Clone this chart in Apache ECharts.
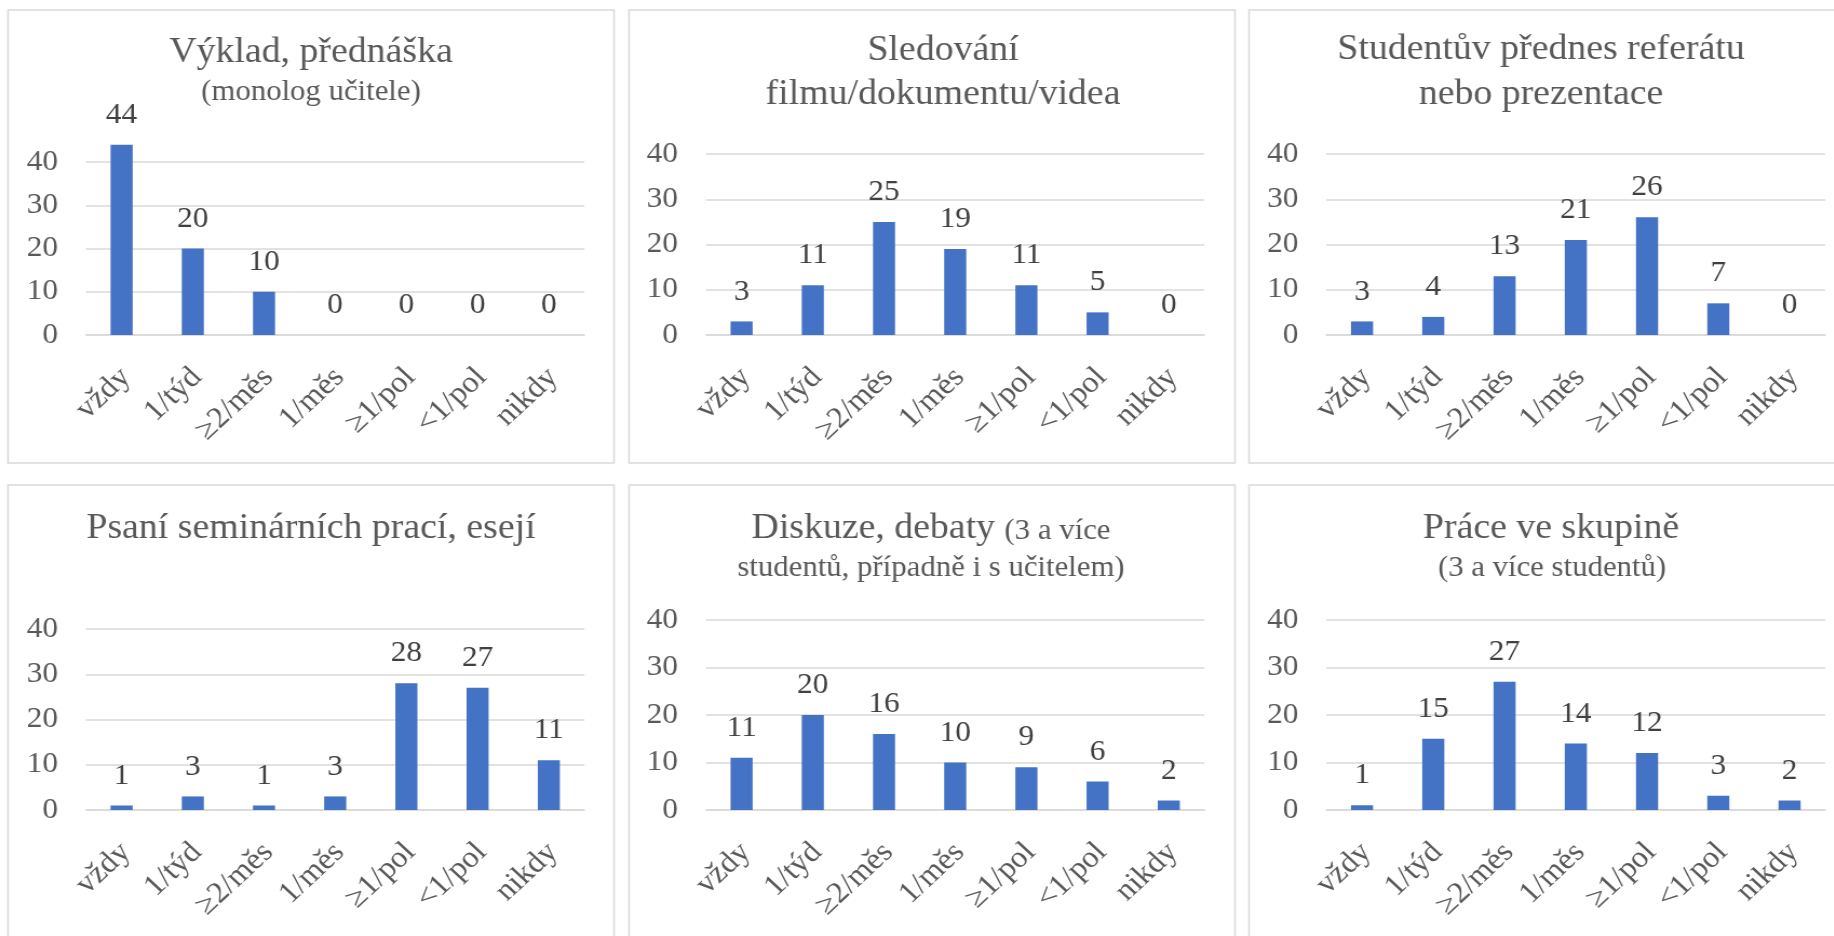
<!DOCTYPE html>
<html><head><meta charset="utf-8">
<script src="https://cdn.jsdelivr.net/npm/echarts@6/dist/echarts.min.js"></script>
<style>
html,body{margin:0;padding:0;background:#fff;overflow:hidden}
#wrap{width:1834px;height:936px;overflow:hidden;position:relative;background:#fff}
#chart{width:1699px;height:936px;transform:scaleX(1.08);transform-origin:0 0}
</style></head><body><div id="wrap"><div id="chart"></div></div>
<script>
// ---- data ----
const categories = ['vždy', '1/týd', '≥2/měs', '1/měs', '≥1/pol', '<1/pol', 'nikdy'];
const yTicks = [0, 10, 20, 30, 40];
const vykladValues = [44, 20, 10, 0, 0, 0, 0];
const sledovaniValues = [3, 11, 25, 19, 11, 5, 0];
const referatValues = [3, 4, 13, 21, 26, 7, 0];
const psaniValues = [1, 3, 1, 3, 28, 27, 11];
const diskuzeValues = [11, 20, 16, 10, 9, 6, 2];
const skupinaValues = [1, 15, 27, 14, 12, 3, 2];

// ---- layout (full-size pixel coords; x divided by S because of horizontal stretch) ----
const S = 1.08;
const FF = 'Liberation Serif';
const panels = [
  {vals: vykladValues,    box: [8, 10, 614, 463],     plot: [86, 162, 584.4, 335]},
  {vals: sledovaniValues, box: [629, 10, 1235, 463],  plot: [706, 154, 1204.4, 335]},
  {vals: referatValues,   box: [1249, 10, 1900, 463], plot: [1326.4, 154, 1825.2, 335]},
  {vals: psaniValues,     box: [8, 485, 614, 1000],   plot: [86, 629, 584.4, 810]},
  {vals: diskuzeValues,   box: [629, 485, 1235, 1000],plot: [706, 620, 1204.4, 810]},
  {vals: skupinaValues,   box: [1249, 485, 1900, 1000],plot: [1326.4, 620, 1825.2, 810]}
];

function tt(text, cx, baseline, size) {
  return {
    text: text, left: cx / S, top: baseline - size * 0.8375, padding: 0,
    textAlign: 'center', textVerticalAlign: 'top',
    textStyle: {fontSize: size, lineHeight: size, fontFamily: FF, fontWeight: 'normal', color: '#595959'}
  };
}
const BIG = 35, SMALL = 28.5;
const titles = [
  tt('Výklad, přednáška', 311, 65, BIG),
  tt('(monolog učitele)', 311, 102, SMALL),
  tt('Sledování', 943, 63, BIG),
  tt('filmu/dokumentu/videa', 943, 107, BIG),
  tt('Studentův přednes referátu', 1541, 62, BIG),
  tt('nebo prezentace', 1541, 107, BIG),
  tt('Psaní seminárních prací, esejí', 311, 541, BIG),
  {
    text: '{a|Diskuze, debaty} {b|(3 a více}', left: 931 / S, top: 541 - BIG * 0.8375, padding: 0,
    textAlign: 'center', textVerticalAlign: 'top',
    textStyle: {fontSize: BIG, lineHeight: BIG, fontFamily: FF, fontWeight: 'normal', color: '#595959',
      rich: {
        a: {fontSize: BIG, lineHeight: BIG, fontFamily: FF, color: '#595959'},
        b: {fontSize: SMALL, lineHeight: BIG, fontFamily: FF, color: '#595959', padding: [4, 0, 0, 0]}
      }}
  },
  tt('studentů, případně i s učitelem)', 931, 578, SMALL),
  tt('Práce ve skupině', 1551, 541, BIG),
  tt('(3 a více studentů)', 1552, 578, SMALL)
];

const grids = [], xAxes = [], yAxes = [], series = [], graphics = [];
panels.forEach(function (p, i) {
  graphics.push({
    type: 'rect', silent: true, z: -1,
    shape: {x: p.box[0] / S, y: p.box[1], width: (p.box[2] - p.box[0]) / S, height: p.box[3] - p.box[1]},
    style: {fill: '#ffffff', stroke: '#d9d9d9', lineWidth: 1.5}
  });
  grids.push({
    left: p.plot[0] / S, top: p.plot[1],
    width: (p.plot[2] - p.plot[0]) / S, height: p.plot[3] - p.plot[1],
    containLabel: false, outerBoundsMode: 'none'
  });
  xAxes.push({
    type: 'category', gridIndex: i, data: categories,
    axisTick: {show: false},
    axisLine: {show: true, lineStyle: {color: '#d9d9d9', width: 1.5}},
    axisLabel: {interval: 0, rotate: 45, margin: 34, verticalAlign: 'top', lineHeight: 11,
      fontSize: 30, fontFamily: FF, color: '#595959'}
  });
  yAxes.push({
    type: 'value', gridIndex: i,
    min: yTicks[0], max: yTicks[yTicks.length - 1], interval: yTicks[1] - yTicks[0],
    axisLine: {show: false}, axisTick: {show: false},
    splitLine: {show: true, lineStyle: {color: '#d9d9d9', width: 1.5}},
    axisLabel: {margin: 26, fontSize: 29, fontFamily: FF, color: '#595959'}
  });
  series.push({
    type: 'bar', xAxisIndex: i, yAxisIndex: i, data: p.vals,
    barWidth: '31%', clip: false,
    itemStyle: {color: '#4472C4'},
    label: {show: true, position: 'top', distance: 15, fontSize: 29, fontFamily: FF, color: '#404040'}
  });
});

const chart = echarts.init(document.getElementById('chart'), null, {renderer: 'canvas'});
chart.setOption({
  backgroundColor: '#ffffff',
  animation: false,
  textStyle: {fontFamily: FF},
  title: titles,
  graphic: {elements: graphics},
  grid: grids,
  xAxis: xAxes,
  yAxis: yAxes,
  series: series
});
</script></body></html>
